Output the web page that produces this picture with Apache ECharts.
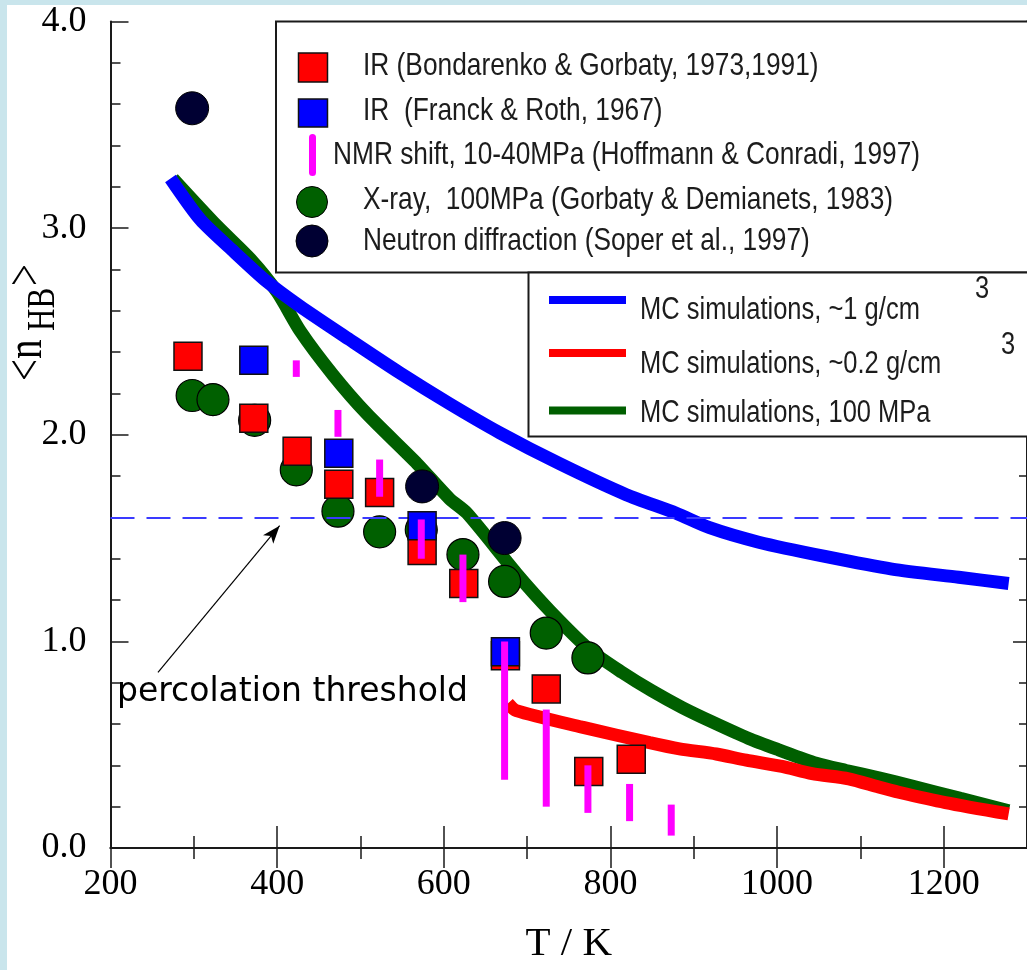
<!DOCTYPE html>
<html><head><meta charset="utf-8">
<script src="https://cdn.jsdelivr.net/npm/echarts@6/dist/echarts.min.js"></script>
<style>
html,body{margin:0;padding:0;width:1027px;height:970px;overflow:hidden;background:#c9e5ec;}
#paper{position:absolute;left:7px;top:5px;right:0;bottom:0;background:#fff;}
#chart{position:absolute;left:0;top:0;width:1027px;height:970px;}
</style></head><body>
<div id="paper"></div><div id="chart"></div>
<script>
// ---- tick values and labels ----
const xMajorTicks = [200, 400, 600, 800, 1000, 1200];
const xTickLabels = ['200', '400', '600', '800', '1000', '1200'];
const xMinorTicks = [300, 500, 700, 900, 1100];
const yMajorTicks = [0, 1, 2, 3, 4];
const yTickLabels = ['0.0', '1.0', '2.0', '3.0', '4.0'];
const yMinorTicks = [0.2, 0.4, 0.6, 0.8, 1.2, 1.4, 1.6, 1.8, 2.2, 2.4, 2.6, 2.8, 3.2, 3.4, 3.6, 3.8];

// ---- series names ----
const nameIrBG = 'IR (Bondarenko & Gorbaty, 1973,1991)';
const nameIrFR = 'IR  (Franck & Roth, 1967)';
const nameNmr = 'NMR shift, 10-40MPa (Hoffmann & Conradi, 1997)';
const nameXray = 'X-ray,  100MPa (Gorbaty & Demianets, 1983)';
const nameNeutron = 'Neutron diffraction (Soper et al., 1997)';
const nameMc1 = 'MC simulations, ~1 g/cm';
const nameMc02 = 'MC simulations, ~0.2 g/cm';
const nameMc100 = 'MC simulations, 100 MPa';

// ---- data: [T (K), <n_HB>] ----
const irBondarenko = [[293, 2.38], [372, 2.08], [424, 1.92], [474, 1.76], [523, 1.72], [574, 1.44], [624, 1.28], [674, 0.93], [723, 0.77], [774, 0.37], [825, 0.43]];
const irFranck = [[372, 2.36], [474, 1.91], [574, 1.56], [674, 0.95]];
// [T, low, high]
const nmrShift = [[423, 2.28, 2.36], [473, 1.99, 2.12], [523, 1.70, 1.88], [573, 1.40, 1.59], [623, 1.19, 1.42], [673, 0.33, 1.00], [723, 0.20, 0.67], [773, 0.17, 0.40], [823, 0.13, 0.31], [873, 0.06, 0.21]];
const xray = [[298, 2.19], [323, 2.17], [373, 2.07], [423, 1.83], [473, 1.63], [523, 1.53], [573, 1.54], [623, 1.42], [673, 1.29], [723, 1.04], [773, 0.92]];
const neutron = [[298, 3.58], [574, 1.75], [673, 1.50]];
const mc1 = [[272, 3.24], [308, 3.04], [347, 2.89], [388, 2.74], [428, 2.62], [487, 2.46], [547, 2.30], [607, 2.15], [667, 2.01], [739, 1.86], [819, 1.71], [879, 1.62], [919, 1.55], [978, 1.48], [1059, 1.41], [1138, 1.35], [1218, 1.31], [1278, 1.28]];
const mc02 = [[677, 0.70], [687, 0.665], [766, 0.585], [847, 0.51], [883, 0.48], [927, 0.455], [963, 0.425], [1006, 0.395], [1042, 0.36], [1086, 0.335], [1122, 0.295], [1146, 0.27], [1202, 0.22], [1278, 0.165]];
const mc100 = [[275, 3.24], [328, 3.01], [368, 2.85], [400, 2.69], [428, 2.50], [467, 2.29], [508, 2.10], [568, 1.86], [607, 1.69], [628, 1.62], [687, 1.33], [727, 1.15], [775, 0.96], [814, 0.85], [850, 0.76], [886, 0.68], [922, 0.61], [966, 0.53], [1002, 0.475], [1047, 0.41], [1083, 0.375], [1122, 0.34], [1162, 0.30], [1220, 0.24], [1278, 0.18]];
const percolationThreshold = 1.6;
const arrowFrom = [257, 0.85];
const arrowTo = [403, 1.56];

const chart = echarts.init(document.getElementById('chart'), null, {renderer: 'canvas'});

const AX = '#1a1a1a';
const serif = '"Liberation Serif", "Times New Roman", serif';
function xAx(pos, major) {
  return {
    type: 'value', position: pos, min: 200, max: 1300, interval: major ? 200 : 100,
    axisLine: {show: major, lineStyle: {color: AX, width: 2}},
    axisTick: {show: true, inside: true, length: major ? (pos === 'bottom' ? 22 : 20) : (pos === 'bottom' ? 12 : 11),
      customValues: major ? xMajorTicks : xMinorTicks, lineStyle: {color: AX, width: 1.5}},
    axisLabel: (major && pos === 'bottom') ? {
      show: true, customValues: xMajorTicks, margin: 19,
      fontFamily: serif, fontSize: 36, color: '#000',
      formatter: v => { const i = xMajorTicks.indexOf(v); return i >= 0 ? xTickLabels[i] : ''; }
    } : {show: false},
    splitLine: {show: false},
    name: (major && pos === 'bottom') ? 'T / K' : '',
    nameLocation: 'middle', nameGap: 76,
    nameTextStyle: {fontFamily: serif, fontSize: 41, color: '#000'}
  };
}
function yAx(pos, major) {
  return {
    type: 'value', position: pos, min: 0, max: 4, interval: major ? 1 : 0.2,
    axisLine: {show: major, lineStyle: {color: AX, width: 2}},
    axisTick: {show: true, inside: true, length: major ? (pos === 'left' ? 18 : 14) : (pos === 'left' ? 10 : 8),
      customValues: major ? yMajorTicks : yMinorTicks, lineStyle: {color: AX, width: 1.5}},
    axisLabel: (major && pos === 'left') ? {
      show: true, customValues: yMajorTicks, margin: 24,
      fontFamily: serif, fontSize: 36, color: '#000',
      formatter: v => { const i = yMajorTicks.indexOf(Math.round(v * 10) / 10); return i >= 0 ? yTickLabels[i] : ''; }
    } : {show: false},
    splitLine: {show: false}
  };
}

const LF = '"Liberation Sans", Arial, sans-serif';
function lgText(x, y, text, size) {
  return {type: 'text', x: x, y: y, scaleY: 1.2, z: 101,
    style: {text: text, font: (size || 25.5) + 'px ' + LF, fill: '#1c1c1c', align: 'left', verticalAlign: 'middle'}};
}

const option = {
  animation: false,
  backgroundColor: 'transparent',
  grid: {left: 110.5, top: 21.5, width: 919, height: 829.5, containLabel: false},
  xAxis: [xAx('bottom', true), xAx('bottom', false), xAx('top', true), xAx('top', false)],
  yAxis: [yAx('left', true), yAx('left', false), yAx('right', true), yAx('right', false)],
  series: [
    {name: nameMc100, type: 'line', data: mc100, symbol: 'none', smooth: 0.25, z: 2,
      lineStyle: {color: '#005f00', width: 13},
      markLine: {silent: true, symbol: ['none', 'arrow'], symbolSize: [10, 18], label: {show: false},
        lineStyle: {color: '#000', width: 1.2, type: 'solid'},
        data: [[{coord: arrowFrom}, {coord: arrowTo}]]}},
    {name: nameMc02, type: 'line', data: mc02, symbol: 'none', smooth: 0.25, z: 2,
      lineStyle: {color: '#ff0000', width: 13}},
    {name: nameMc1, type: 'line', data: mc1, symbol: 'none', smooth: 0.25, z: 2,
      lineStyle: {color: '#0000ff', width: 13},
      markLine: {silent: true, symbol: ['none', 'none'], label: {show: false},
        lineStyle: {color: '#3a3aff', width: 2, type: [24, 12]},
        data: [{yAxis: percolationThreshold}]}},
    {name: nameXray, type: 'scatter', data: xray, symbol: 'circle', symbolSize: 32, z: 3,
      itemStyle: {color: '#006000', borderColor: '#000', borderWidth: 1.2, opacity: 1}},
    {name: nameNeutron, type: 'scatter', data: neutron, symbol: 'circle', symbolSize: 33, z: 3,
      itemStyle: {color: '#000033', borderColor: '#000', borderWidth: 1, opacity: 1}},
    {name: nameIrBG, type: 'scatter', data: irBondarenko, symbol: 'rect', symbolSize: 28, z: 4,
      itemStyle: {color: '#ff0000', borderColor: '#111', borderWidth: 1.5, opacity: 1}},
    {name: nameIrFR, type: 'scatter', data: irFranck, symbol: 'rect', symbolSize: 28, z: 5,
      itemStyle: {color: '#0000ff', borderColor: '#111', borderWidth: 1.5, opacity: 1}},
    {name: nameNmr, type: 'custom', data: nmrShift, z: 6,
      encode: {x: 0, y: [1, 2]},
      renderItem: function (params, api) {
        const t = api.value(0), lo = api.value(1), hi = api.value(2);
        const p1 = api.coord([t, hi]), p2 = api.coord([t, lo]);
        return {type: 'rect', shape: {x: p1[0] - 3.5, y: p1[1], width: 7, height: p2[1] - p1[1]},
          style: {fill: '#ff00ff'}};
      }}
  ],
  graphic: [
    // legend box 1
    {type: 'rect', z: 100, shape: {x: 276, y: 21.5, width: 770, height: 251}, style: {fill: '#fff', stroke: '#1a1a1a', lineWidth: 2}},
    {type: 'rect', z: 101, shape: {x: 298.5, y: 53, width: 29, height: 29}, style: {fill: '#ff0000', stroke: '#111', lineWidth: 1.5}},
    lgText(363, 66, nameIrBG, 26.3),
    {type: 'rect', z: 101, shape: {x: 298.5, y: 99, width: 29, height: 28}, style: {fill: '#0000ff', stroke: '#111', lineWidth: 1.5}},
    lgText(363, 111, nameIrFR, 26.3),
    {type: 'rect', z: 101, shape: {x: 309, y: 134, width: 7, height: 42, r: 3.5}, style: {fill: '#ff00ff'}},
    lgText(333, 155, nameNmr, 26.3),
    {type: 'circle', z: 101, shape: {cx: 312, cy: 202, r: 15.5}, style: {fill: '#006000', stroke: '#000', lineWidth: 1}},
    lgText(363, 200, nameXray, 26.3),
    {type: 'circle', z: 101, shape: {cx: 312, cy: 241, r: 16}, style: {fill: '#000033', stroke: '#000', lineWidth: 1}},
    lgText(363, 241, nameNeutron, 26.3),
    // legend box 2
    {type: 'rect', z: 100, shape: {x: 528.5, y: 272.5, width: 520, height: 164}, style: {fill: '#fff', stroke: '#1a1a1a', lineWidth: 2}},
    {type: 'line', z: 101, shape: {x1: 549, y1: 300, x2: 626, y2: 300}, style: {stroke: '#0000ff', lineWidth: 8}},
    lgText(640, 311, nameMc1),
    lgText(975, 290, '3'),
    {type: 'line', z: 101, shape: {x1: 549, y1: 353, x2: 626, y2: 353}, style: {stroke: '#ff0000', lineWidth: 8}},
    lgText(640, 365, nameMc02),
    lgText(1001, 346, '3'),
    {type: 'line', z: 101, shape: {x1: 549, y1: 410.5, x2: 626, y2: 410.5}, style: {stroke: '#005f00', lineWidth: 8}},
    lgText(640, 414, nameMc100),
    // annotation text
    {type: 'text', z: 101, x: 117, y: 692,
      style: {text: 'percolation threshold', font: '33px "DejaVu Sans", Verdana, sans-serif', fill: '#000', align: 'left', verticalAlign: 'middle'}},
    // y axis title <n_HB>
    {type: 'group', x: 28, y: 381, rotation: Math.PI / 2, scaleY: 1.3, z: 101, children: [
      {type: 'text', x: 0, y: 0, style: {text: '<n', font: '39px ' + serif, fill: '#000', align: 'left', verticalAlign: 'middle'}},
      {type: 'text', x: 50, y: 12, style: {text: 'HB', font: '31px ' + serif, fill: '#000', align: 'left', verticalAlign: 'middle'}},
      {type: 'text', x: 95, y: 0, style: {text: '>', font: '39px ' + serif, fill: '#000', align: 'left', verticalAlign: 'middle'}}
    ]}
  ]
};
chart.setOption(option);
</script>
</body></html>
